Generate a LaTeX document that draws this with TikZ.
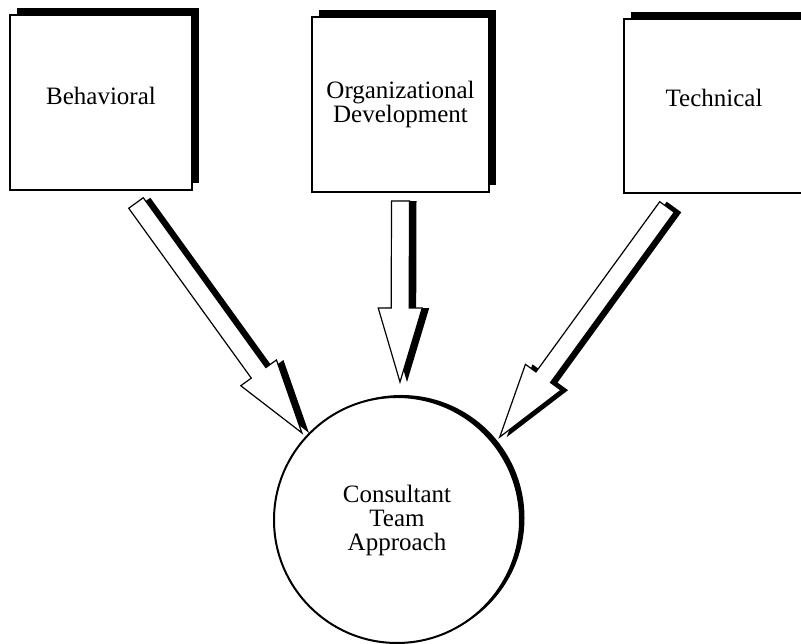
\documentclass[tikz,border=0pt]{standalone}
\usepackage{fontspec}
\setmainfont{Liberation Serif}
\usetikzlibrary{calc}
\usetikzlibrary{shadows}

% hollow block arrow from tail to tip
\newcommand{\blockarrow}[3]{%
  \coordinate (#1n) at ($(#3)!74pt!(#2)$);
  \draw[flow] ($(#2)!9pt!90:(#3)$) -- ($(#1n)!9pt!90:(#3)$) -- ($(#1n)!22pt!90:(#3)$) -- (#3)
    -- ($(#1n)!22pt!-90:(#3)$) -- ($(#1n)!9pt!-90:(#3)$) -- ($(#2)!9pt!-90:(#3)$) -- cycle;
}

\tikzset{
  area/.style={draw, line width=2pt, fill=white, align=center,
    font=\fontsize{25}{24}\selectfont,
    drop shadow={shadow xshift=7pt, shadow yshift=7pt, fill=black, opacity=1}},
  team/.style={circle, draw, line width=2pt, fill=white, align=center,
    font=\fontsize{25}{24}\selectfont, minimum size=246pt,
    drop shadow={shadow xshift=4.5pt, shadow yshift=2pt, fill=black, opacity=1}},
  flow/.style={fill=white, line width=1.2pt, line join=miter,
    drop shadow={shadow xshift=7pt, shadow yshift=0pt, fill=black, opacity=1}}
}

\begin{document}
\begin{tikzpicture}[x=1pt, y=1pt]

    \useasboundingbox (0, 0) rectangle (801, 644);

    \node[area, minimum width=182pt, minimum height=175pt, text depth=14pt] (behav) at (101, 541.5) {Behavioral};
    \node[area, minimum width=177pt, minimum height=175pt] (orgdev) at (400.5, 539.5) {Organizational\\Development};
    \node[area, minimum width=180pt, minimum height=174pt, text depth=16pt] (techn) at (714, 538) {Technical};

    \node[team] (team) at (397, 124) {Consultant\\Team\\Approach};

    \coordinate (a1s) at ([shift={(-57pt, -12pt)}]behav.south east);
    \coordinate (a1e) at ($(team.center)+(137.5:129pt)$);
    \coordinate (a2s) at ([yshift=-8pt]orgdev.south);
    \coordinate (a2e) at ([shift={(3pt, 14pt)}]team.north);
    \coordinate (a3s) at ([shift={(44pt, -13pt)}]techn.south west);
    \coordinate (a3e) at ($(team.center)+(38.9:132pt)$);

    \blockarrow{a1}{a1s}{a1e}
    \blockarrow{a2}{a2s}{a2e}
    \blockarrow{a3}{a3s}{a3e}

\end{tikzpicture}
\end{document}
